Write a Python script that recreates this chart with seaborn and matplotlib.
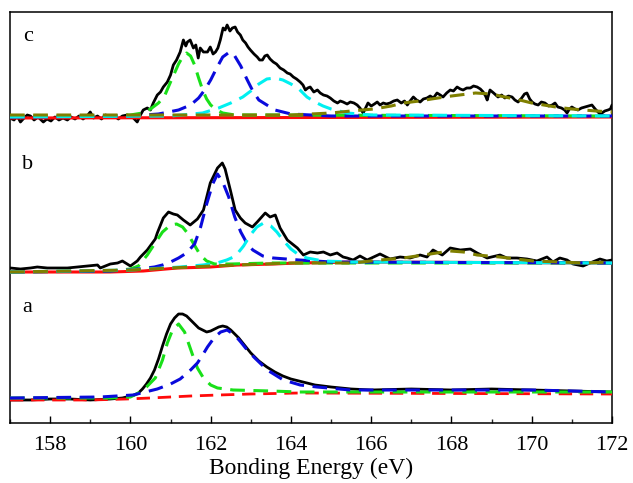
import matplotlib
matplotlib.use("Agg")
import matplotlib.pyplot as plt
from matplotlib.ticker import MultipleLocator
import seaborn as sns
import pandas as pd

# ---------------- S 2p spectra (intensity in a.u., each relative to its own baseline) ----------------
# spectrum c
c_total_x = [157.00, 157.10, 157.18, 157.26, 157.35, 157.43, 157.51, 157.60, 157.70, 157.83, 157.92, 158.02,
             158.12, 158.22, 158.32, 158.43, 158.52, 158.62, 158.72, 158.82, 158.92, 159.00, 159.08, 159.18,
             159.28, 159.38, 159.50, 159.60, 159.70, 159.80, 159.92, 160.05, 160.17, 160.25, 160.32, 160.42,
             160.50, 160.57, 160.67, 160.75, 160.82, 160.92, 161.00, 161.07, 161.15, 161.24, 161.32, 161.38,
             161.42, 161.49, 161.57, 161.63, 161.69, 161.74, 161.82, 161.92, 161.99, 162.06, 162.12, 162.18,
             162.24, 162.31, 162.36, 162.41, 162.48, 162.54, 162.61, 162.67, 162.74, 162.80, 162.87, 162.93,
             162.99, 163.08, 163.16, 163.22, 163.29, 163.35, 163.41, 163.48, 163.56, 163.64, 163.73, 163.82,
             163.91, 163.98, 164.06, 164.14, 164.23, 164.30, 164.36, 164.42, 164.48, 164.57, 164.66, 164.73,
             164.81, 164.90, 164.98, 165.07, 165.16, 165.23, 165.30, 165.40, 165.48, 165.57, 165.65, 165.72,
             165.80, 165.86, 165.92, 166.00, 166.08, 166.15, 166.22, 166.30, 166.38, 166.47, 166.56, 166.65,
             166.75, 166.83, 166.90, 166.97, 167.05, 167.13, 167.22, 167.30, 167.39, 167.47, 167.55, 167.64,
             167.72, 167.79, 167.88, 167.97, 168.05, 168.14, 168.22, 168.29, 168.38, 168.47, 168.55, 168.64,
             168.72, 168.79, 168.85, 168.89, 168.93, 168.96, 169.05, 169.16, 169.25, 169.33, 169.42, 169.51,
             169.58, 169.66, 169.75, 169.82, 169.88, 169.95, 170.01, 170.08, 170.16, 170.24, 170.33, 170.42,
             170.51, 170.58, 170.65, 170.74, 170.82, 170.88, 170.94, 171.00, 171.08, 171.15, 171.24, 171.33,
             171.42, 171.50, 171.58, 171.65, 171.70, 171.75, 171.82, 171.90, 171.96, 172.00]
c_total_y = [0, -2, 2, -4, 0, 3, 2, -2, 1, -4, -1, -3,
             1, -2, 0, -2, 1, -1, 2, -1, 2, 6, 0, 2,
             -1, 3, 1, 2, -1, 2, 3, 1, -4, 3, 8, 10,
             8, 15, 23, 26, 31, 36, 43, 53, 58, 66, 78, 72,
             76, 78, 70, 73, 60, 70, 66, 66, 71, 64, 66, 70,
             78, 90, 88, 93, 87, 90, 91, 86, 83, 78, 75, 71,
             68, 64, 61, 58, 58, 62, 63, 59, 56, 54, 50, 48,
             45, 44, 41, 39, 36, 33, 28, 30, 31, 26, 28, 25,
             23, 22, 20, 17, 15, 17, 16, 14, 16, 15, 13, 10,
             5, 10, 15, 12, 14, 16, 13, 15, 14, 15, 17, 18,
             15, 17, 13, 17, 21, 18, 16, 19, 20, 22, 20, 25,
             23, 21, 25, 28, 27, 31, 29, 28, 30, 30, 32, 31,
             29, 26, 22, 18, 24, 28, 25, 21, 23, 20, 22, 21,
             18, 16, 20, 24, 25, 19, 16, 14, 13, 16, 15, 12,
             13, 15, 11, 10, 8, 5, 9, 11, 9, 8, 10, 11,
             12, 13, 9, 6, 4, 5, 7, 8, 9, 13]
c_green_x = [157.0, 159.5, 160.0, 160.3, 160.5, 160.7, 160.85, 161.0, 161.1, 161.2, 161.3, 161.4, 161.5,
             161.6, 161.7, 161.8, 161.9, 162.0, 162.15, 162.3, 162.6, 163.5, 172.0]
c_green_y = [2, 2, 3, 5, 9, 15, 22, 36, 45, 54, 61, 65, 62, 53, 40, 28, 19, 13, 8, 5, 3, 3, 2]
c_blue_x = [157.0, 160.0, 160.7, 161.2, 161.5, 161.7, 161.85, 162.0, 162.15, 162.3, 162.47, 162.6, 162.75,
            162.9, 163.05, 163.2, 163.4, 163.6, 164.0, 165.0, 172.0]
c_blue_y = [1, 2, 4, 8, 13, 20, 28, 38, 50, 61, 66, 62, 52, 39, 27, 18, 13, 8, 4, 2, 2]
c_cyan_x = [157.0, 161.0, 161.8, 162.2, 162.5, 162.8, 163.0, 163.2, 163.4, 163.6, 163.8, 164.0, 164.2,
            164.4, 164.6, 164.8, 165.0, 165.4, 166.0, 172.0]
c_cyan_y = [1, 2, 5, 10, 15, 21, 27, 34, 39, 40, 38, 34, 29, 21, 16, 12, 9, 5, 3, 2]
c_olive_x = [157.0, 164.0, 165.0, 165.5, 166.06, 166.5, 166.8, 167.2, 167.5, 168.0, 168.6, 169.0, 169.33,
             169.7, 170.0, 170.3, 170.6, 171.0, 171.3, 171.6, 172.0]
c_olive_y = [3, 3, 5, 7, 9, 12, 15, 17, 19, 22, 25, 24, 21, 18, 15, 13, 11, 9, 8, 7, 6]
c_bg_x = [157.0, 172.0]
c_bg_y = [0, 1]

# spectrum b
b_total_x = [157.01, 157.26, 157.51, 157.68, 157.93, 158.18, 158.43, 158.68, 158.93, 159.18, 159.25, 159.50,
             159.68, 159.80, 159.92, 160.00, 160.17, 160.25, 160.42, 160.62, 160.67, 160.82, 160.95, 161.07,
             161.17, 161.32, 161.49, 161.67, 161.82, 161.99, 162.17, 162.29, 162.36, 162.49, 162.61, 162.74,
             162.86, 163.04, 163.16, 163.36, 163.48, 163.61, 163.73, 163.91, 164.16, 164.31, 164.48, 164.66,
             164.81, 164.98, 165.15, 165.30, 165.40, 165.55, 165.72, 165.90, 166.22, 166.47, 166.72, 166.97,
             167.22, 167.39, 167.54, 167.77, 167.97, 168.22, 168.47, 168.64, 168.89, 169.21, 169.38, 169.63,
             169.88, 170.13, 170.38, 170.53, 170.70, 170.88, 171.03, 171.28, 171.45, 171.70, 171.87, 172.00]
b_total_y = [4, 3, 4, 5, 4, 4, 4, 5, 6, 7, 4, 8,
             9, 11, 8, 6, 11, 15, 22, 33, 39, 54, 60, 58,
             57, 52, 47, 53, 62, 89, 104, 109, 103, 82, 62, 54,
             49, 45, 50, 59, 55, 57, 44, 32, 24, 17, 20, 19,
             20, 17, 19, 15, 14, 12, 16, 12, 18, 13, 15, 14,
             17, 15, 22, 17, 24, 22, 23, 19, 14, 17, 14, 14,
             13, 11, 15, 10, 14, 12, 8, 6, 9, 13, 11, 12]
b_green_x = [157.0, 159.5, 160.0, 160.2, 160.42, 160.6, 160.8, 161.0, 161.15, 161.3, 161.42, 161.55, 161.74,
             161.9, 162.1, 162.5, 163.5, 172.0]
b_green_y = [0, 1, 3, 6, 17, 28, 40, 47, 48, 45, 39, 30, 17, 11, 8, 8, 9, 9]
b_blue_x = [157.0, 159.5, 160.2, 160.6, 160.8, 161.0, 161.2, 161.4, 161.6, 161.75, 161.9, 162.05, 162.17,
            162.3, 162.45, 162.6, 162.75, 162.9, 163.05, 163.3, 163.56, 164.2, 165.0, 172.0]
b_blue_y = [0, 1, 3, 5, 7, 10, 14, 19, 28, 45, 68, 88, 98, 90, 75, 55, 40, 29, 22, 16, 14, 12, 10, 9]
b_cyan_x = [157.0, 160.0, 161.24, 161.8, 162.16, 162.4, 162.57, 162.7, 162.82, 162.99, 163.15, 163.32,
            163.5, 163.65, 163.8, 164.0, 164.2, 164.4, 164.8, 165.5, 172.0]
b_cyan_y = [0, 2, 5, 7, 9, 12, 15, 20, 26, 37, 45, 49, 46, 40, 32, 23, 17, 14, 11, 10, 9]
b_olive_x = [157.0, 160.0, 162.0, 164.0, 165.0, 165.55, 166.22, 166.8, 167.3, 167.97, 168.3, 168.64,
             169.2, 170.03, 170.7, 171.3, 172.0]
b_olive_y = [0, 2, 6, 9, 9, 9, 12, 14, 17, 21, 20, 17, 15, 11, 10, 9, 10]
b_bg_x = [157.0, 159.5, 160.32, 161.17, 161.99, 162.66, 163.56, 164.16, 165.65, 172.0]
b_bg_y = [0, 0, 1, 4, 5, 7, 8, 9, 10, 9]

# spectrum a
a_total_x = [157.0, 157.5, 158.0, 158.5, 159.0, 159.5, 159.8, 160.0, 160.1, 160.2, 160.3, 160.4, 160.5,
             160.6, 160.7, 160.8, 160.9, 161.0, 161.1, 161.2, 161.3, 161.4, 161.5, 161.6, 161.7, 161.8,
             161.9, 162.0, 162.1, 162.2, 162.3, 162.4, 162.5, 162.6, 162.7, 162.8, 162.9, 163.0, 163.2,
             163.4, 163.6, 163.8, 164.0, 164.3, 164.6, 165.0, 165.5, 166.0, 167.0, 168.0, 169.0, 170.0,
             171.0, 172.0]
a_total_y = [0, 0, 1, 1, 0, 1, 2, 4, 5, 7, 11, 16, 22,
             30, 41, 54, 66, 76, 82, 86, 86, 84, 80, 76, 72, 70,
             68, 69, 71, 73, 74, 73, 70, 66, 62, 57, 52, 47, 39,
             33, 28, 24, 21, 18, 15, 13, 11, 10, 11, 10, 11, 10,
             9, 8]
a_green_x = [157.0, 159.5, 160.0, 160.25, 160.4, 160.62, 160.8, 160.92, 161.05, 161.2, 161.35, 161.42,
             161.55, 161.67, 161.82, 162.0, 162.17, 162.56, 163.5, 164.2, 172.0]
a_green_y = [2, 2, 3, 8, 13, 22, 40, 57, 70, 76, 68, 60, 45, 32, 22, 15, 12, 10, 9, 8, 8]
a_blue_x = [157.0, 159.25, 160.07, 160.67, 161.0, 161.24, 161.5, 161.67, 161.8, 161.92, 162.1, 162.25,
            162.41, 162.6, 162.75, 162.91, 163.1, 163.41, 163.81, 164.23, 164.65, 165.48, 170.0, 172.0]
a_blue_y = [2, 3, 5, 11, 16, 21, 30, 37, 45, 53, 63, 68, 70, 65, 58, 50, 42, 30, 20, 15, 13, 10, 10, 8]
a_bg_x = [157.0, 159.0, 159.9, 160.5, 161.0, 161.5, 162.2, 163.0, 164.2, 172.0]
a_bg_y = [0, 0, 1, 2, 3, 4, 5, 6, 7, 6]

panel_labels = ["a", "b", "c"]
x_ticks = [158, 160, 162, 164, 166, 168, 170, 172]
x_label = "Bonding Energy (eV)"

# vertical stacking of the three spectra
stack_offset = {"a": 23, "b": 151, "c": 305}

# ---------------- styling ----------------
sns.set_theme(style="ticks")
plt.rcParams["font.family"] = ["Liberation Serif", "DejaVu Serif"]

GREEN = "#19e019"
BLUE = "#0a0adc"
CYAN = "#00f0f0"
OLIVE = "#7f7f00"
RED = "#ff0a0a"
DASH = (0, (4.8, 2.8))

fig = plt.figure(figsize=(6.33, 4.83), dpi=100)
ax = fig.add_axes([10 / 633, 60 / 483, 602 / 633, 411 / 483])


def draw(xs, ys, off, color, lw, ls="-", z=2):
    df = pd.DataFrame({"x": xs, "y": [v + off for v in ys]})
    sns.lineplot(data=df, x="x", y="y", ax=ax, color=color, linewidth=lw,
                 linestyle=ls, zorder=z, estimator=None, sort=False, legend=False)


# spectrum c
o = stack_offset["c"]
draw(c_total_x, c_total_y, o, "black", 2.0, z=2)
draw(c_bg_x, c_bg_y, o, RED, 2.2, z=3)
draw(c_green_x, c_green_y, o, GREEN, 2.2, DASH, z=4)
draw(c_blue_x, c_blue_y, o, BLUE, 2.2, DASH, z=5)
draw(c_cyan_x, c_cyan_y, o, CYAN, 2.2, DASH, z=5)
draw(c_olive_x, c_olive_y, o, OLIVE, 2.2, DASH, z=6)

# spectrum b
o = stack_offset["b"]
draw(b_total_x, b_total_y, o, "black", 2.0, z=2)
draw(b_bg_x, b_bg_y, o, RED, 2.2, z=3)
draw(b_green_x, b_green_y, o, GREEN, 2.2, DASH, z=4)
draw(b_blue_x, b_blue_y, o, BLUE, 2.2, DASH, z=5)
draw(b_cyan_x, b_cyan_y, o, CYAN, 2.2, DASH, z=5)
draw(b_olive_x, b_olive_y, o, OLIVE, 2.2, DASH, z=6)

# spectrum a
o = stack_offset["a"]
draw(a_total_x, a_total_y, o, "black", 2.0, z=2)
draw(a_bg_x, a_bg_y, o, RED, 2.0, DASH, z=3)
draw(a_green_x, a_green_y, o, GREEN, 2.2, DASH, z=4)
draw(a_blue_x, a_blue_y, o, BLUE, 2.2, DASH, z=5)

# panel letters
for lab, ypos in zip(panel_labels, [115, 258, 386]):
    ax.text(157.44, ypos, lab, fontsize=16, ha="center", va="center", color="black")

ax.set_xlim(157, 172)
ax.set_ylim(0, 411)
ax.set_xticks(x_ticks)
ax.set_xticklabels([str(t) for t in x_ticks])
ax.xaxis.set_minor_locator(MultipleLocator(1))
ax.set_yticks([])
ax.tick_params(axis="x", which="major", direction="in", length=5, width=1, labelsize=16,
               pad=9, colors="black", top=False)
ax.tick_params(axis="x", which="minor", direction="in", length=3, width=1, top=False)
ax.set_xlabel(x_label, fontsize=17, labelpad=2.5, color="black")
ax.set_ylabel("")
for s in ax.spines.values():
    s.set_visible(True)
    s.set_color("black")
    s.set_linewidth(1.1)

fig.savefig("out.png", dpi=100)
